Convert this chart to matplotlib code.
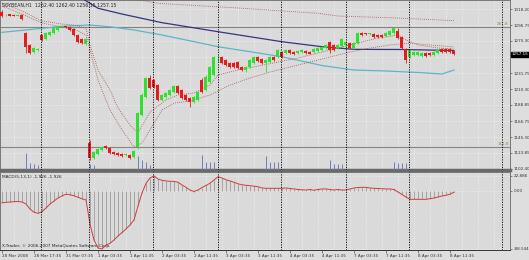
import matplotlib
matplotlib.use("Agg")
import matplotlib.pyplot as plt
import matplotlib.transforms as mtransforms
import numpy as np

# SOYBEAN H1 candles (28 Mar - 8 Apr 2008)
opens = [1314.50, 1310.00, 1311.25, 1310.50, 1309.25, 1310.50, 1286.00, 1270.00, 1260.50, 1263.00,
         1283.50, 1278.00, 1283.50, 1286.00, 1290.25, 1295.50, 1295.00, 1294.25, 1291.50, 1283.50,
         1278.00, 1271.25, 1137.25, 1116.75, 1122.25, 1127.75, 1133.00, 1130.50, 1125.00, 1123.75,
         1122.25, 1121.25, 1121.00, 1118.25, 1131.75, 1175.00, 1199.50, 1225.25, 1222.50, 1215.75,
         1195.50, 1199.50, 1202.25, 1206.25, 1214.25, 1209.00, 1202.25, 1198.00, 1192.75, 1195.50,
         1222.50, 1208.75, 1219.75, 1229.25, 1253.00, 1253.50, 1249.50, 1245.50, 1245.50, 1246.75,
         1240.00, 1236.00, 1240.00, 1245.50, 1253.50, 1251.00, 1245.50, 1246.75, 1253.50, 1253.50,
         1260.50, 1259.00, 1263.00, 1260.50, 1259.00, 1259.75, 1261.75, 1260.50, 1260.50, 1261.75,
         1263.00, 1265.75, 1274.00, 1270.00, 1265.75, 1268.50, 1270.00, 1272.50, 1265.75, 1272.50,
         1286.00, 1285.50, 1285.25, 1284.75, 1283.50, 1283.50, 1282.00, 1283.50, 1286.00, 1288.75,
         1280.75, 1264.50, 1253.50, 1256.25, 1256.25, 1255.00, 1259.00, 1259.00, 1256.25, 1259.00,
         1264.50, 1264.50, 1264.50, 1262.40]
highs = [1317.25, 1311.75, 1312.00, 1311.25, 1311.25, 1311.75, 1287.50, 1271.25, 1267.25, 1265.75,
         1284.75, 1287.50, 1288.75, 1294.25, 1297.00, 1297.00, 1296.25, 1295.50, 1293.00, 1284.75,
         1279.25, 1279.25, 1141.25, 1126.25, 1130.50, 1133.00, 1134.50, 1131.75, 1126.25, 1125.00,
         1123.75, 1123.00, 1122.25, 1127.75, 1179.25, 1204.75, 1226.50, 1229.25, 1223.75, 1217.00,
         1203.50, 1206.25, 1210.25, 1215.75, 1215.75, 1210.25, 1203.50, 1199.50, 1200.75, 1207.50,
         1225.25, 1229.25, 1241.50, 1255.00, 1256.25, 1255.00, 1251.00, 1246.75, 1246.75, 1248.25,
         1241.50, 1241.50, 1251.00, 1255.00, 1255.00, 1252.25, 1251.00, 1255.00, 1255.00, 1264.50,
         1261.75, 1264.50, 1264.50, 1261.75, 1263.00, 1264.50, 1263.00, 1261.75, 1265.75, 1267.25,
         1268.50, 1271.25, 1275.25, 1271.25, 1271.25, 1279.25, 1275.25, 1274.00, 1274.00, 1287.50,
         1287.50, 1286.75, 1286.75, 1286.00, 1284.75, 1284.75, 1287.50, 1290.25, 1294.25, 1293.00,
         1282.00, 1265.75, 1264.50, 1261.75, 1261.75, 1260.50, 1260.50, 1260.50, 1261.75, 1264.50,
         1265.75, 1265.75, 1265.75, 1262.40]
lows = [1307.75, 1309.00, 1308.50, 1308.50, 1308.50, 1303.75, 1259.00, 1257.75, 1259.00, 1261.75,
        1275.25, 1276.50, 1282.00, 1284.75, 1288.75, 1294.25, 1293.50, 1288.75, 1282.00, 1272.50,
        1271.25, 1269.75, 1114.25, 1115.50, 1121.00, 1126.25, 1129.00, 1122.25, 1121.00, 1119.50,
        1118.25, 1120.25, 1115.50, 1116.75, 1129.00, 1173.75, 1198.00, 1210.25, 1211.75, 1194.00,
        1194.00, 1198.00, 1200.75, 1204.75, 1203.50, 1196.75, 1194.00, 1186.00, 1191.25, 1194.00,
        1204.75, 1207.50, 1218.50, 1228.00, 1246.75, 1244.25, 1241.50, 1238.75, 1238.75, 1237.25,
        1234.75, 1233.25, 1238.75, 1244.25, 1246.75, 1244.25, 1233.25, 1245.50, 1248.25, 1252.25,
        1252.25, 1257.75, 1257.75, 1256.25, 1257.75, 1259.00, 1257.75, 1257.75, 1259.00, 1260.50,
        1261.75, 1264.50, 1259.00, 1261.75, 1264.50, 1267.25, 1268.50, 1264.50, 1264.50, 1271.25,
        1282.00, 1284.00, 1284.00, 1279.25, 1279.25, 1279.25, 1280.75, 1282.00, 1284.75, 1278.00,
        1264.50, 1245.50, 1252.25, 1255.00, 1255.00, 1253.50, 1253.50, 1255.00, 1255.00, 1257.75,
        1259.00, 1259.00, 1259.00, 1256.15]
closes = [1309.00, 1311.00, 1309.25, 1309.25, 1310.50, 1305.00, 1267.25, 1259.00, 1265.75, 1265.00,
          1276.50, 1286.00, 1287.50, 1293.00, 1295.50, 1296.00, 1294.75, 1290.25, 1283.50, 1274.00,
          1272.50, 1278.00, 1116.75, 1125.00, 1129.00, 1131.75, 1130.50, 1123.75, 1122.25, 1121.00,
          1119.50, 1122.00, 1116.75, 1126.25, 1177.75, 1202.25, 1225.25, 1211.75, 1213.00, 1195.50,
          1202.25, 1204.75, 1209.00, 1214.25, 1204.75, 1198.00, 1195.50, 1192.75, 1199.50, 1206.25,
          1206.25, 1226.50, 1240.00, 1253.50, 1253.75, 1245.50, 1242.75, 1240.00, 1240.00, 1238.75,
          1236.00, 1240.00, 1249.50, 1253.50, 1248.25, 1245.50, 1249.50, 1253.50, 1249.50, 1263.00,
          1253.50, 1263.00, 1259.00, 1257.75, 1261.75, 1263.00, 1259.00, 1258.25, 1264.50, 1265.75,
          1267.25, 1270.00, 1263.00, 1263.00, 1270.00, 1278.00, 1274.00, 1265.75, 1272.50, 1286.00,
          1283.50, 1285.25, 1285.50, 1280.75, 1280.75, 1280.75, 1286.00, 1288.75, 1293.00, 1279.25,
          1265.75, 1249.50, 1263.00, 1260.50, 1260.50, 1259.00, 1255.00, 1256.25, 1260.50, 1263.00,
          1260.50, 1260.50, 1260.50, 1257.15]

# MACD(5,13,1) - histogram and signal are the same series
macd = [-18.0, -17.3, -16.8, -16.3, -16.0, -16.8, -19.9, -27.5, -32.5, -34.1,
        -31.6, -26.0, -19.9, -15.3, -10.7, -7.6, -5.0, -5.8, -7.3, -9.6,
        -11.9, -13.7, -50.4, -74.8, -87.0, -88.5, -82.5, -79.9, -74.8, -68.7,
        -63.4, -58.0, -51.9, -44.3, -22.9, -3.1, 11.5, 19.9, 22.9, 18.3,
        16.3, 15.3, 14.8, 14.5, 13.4, 9.2, 5.6, 1.5, -0.8, 1.5,
        5.3, 8.4, 11.8, 16.8, 21.8, 19.9, 17.1, 15.3, 13.3, 11.0,
        9.5, 8.7, 8.1, 7.3, 6.6, 4.6, 4.1, 4.1, 4.1, 4.1,
        4.1, 4.6, 3.8, 3.1, 2.3, 1.8, 1.5, 2.3, 1.1, 2.3,
        3.1, 3.1, 2.3, 1.5, 2.3, 1.5, 1.5, 3.1, 4.6, 5.3,
        5.6, 5.6, 4.6, 4.1, 3.8, 3.5, 3.1, 3.1, 2.3, -1.5,
        -5.3, -9.2, -12.7, -12.7, -12.7, -12.7, -12.7, -11.8, -10.7, -9.2,
        -7.6, -6.6, -5.0, -1.9]

# volume spikes (only a few bars show them)
vol_bars = [6, 7, 8, 9, 22, 23, 34, 35, 36, 37, 50, 51, 52, 53, 66, 67, 68, 69, 82, 83, 84, 85, 98, 99, 100, 101]
vol_vals = [100, 40, 35, 30, 35, 30, 80, 60, 50, 30, 90, 50, 45, 45, 80, 50, 45, 45, 60, 35, 35, 35, 50, 40, 40, 40]

# moving averages (solid) read at a few bars
slow_ma_bars = [20, 24, 30, 40, 54, 70, 80, 88, 100, 113]
slow_ma_vals = [1333.0, 1319.6, 1311.8, 1300.1, 1287.9, 1274.3, 1267.6, 1264.0, 1263.8, 1262.4]
mid_ma_bars = [0, 10, 16, 22, 27, 33, 40, 54, 70, 80, 88, 96, 105, 110, 113]
mid_ma_vals = [1287.0, 1292.5, 1295.6, 1296.9, 1294.6, 1290.2, 1283.4, 1267.6, 1254.0, 1242.1,
               1236.0, 1234.7, 1232.4, 1230.6, 1236.0]

# dotted lines
fast_bars = [0, 5, 10, 15, 18, 21, 22, 24, 27, 29, 32, 34, 37, 41, 44, 48, 52, 54, 59, 64,
             69, 74, 79, 84, 89, 94, 99, 101, 104, 109, 113]
fast_vals = [1326.7, 1315.9, 1302.4, 1298.3, 1296.9, 1292.9, 1269.9, 1236.0, 1208.9, 1184.6,
             1161.5, 1150.7, 1179.1, 1195.4, 1202.2, 1204.9, 1215.7, 1229.2, 1236.0, 1241.4,
             1246.8, 1252.3, 1259.0, 1265.8, 1272.6, 1279.3, 1283.4, 1276.6, 1269.9, 1265.8, 1264.4]
slow_bars = [0, 5, 10, 15, 18, 21, 22, 24, 27, 30, 33, 35, 37, 40, 43, 47, 52, 57, 62, 67,
             72, 77, 82, 87, 92, 97, 102, 107, 113]
slow_vals = [1322.7, 1311.8, 1299.6, 1294.2, 1291.5, 1283.4, 1263.1, 1222.5, 1181.9, 1154.8,
             1131.8, 1137.2, 1154.8, 1181.9, 1191.3, 1194.0, 1202.2, 1215.7, 1225.2, 1233.3,
             1240.1, 1246.8, 1253.6, 1260.4, 1265.8, 1269.9, 1272.6, 1269.9, 1267.2]
top_bars = [30, 39, 59, 79, 84, 99, 113]
top_vals = [1334.8, 1326.3, 1320.0, 1312.8, 1309.1, 1306.4, 1302.8]

fibo_levels = [1294.6, 1132.2]
fibo_names = ['261.8', '161.8']

separators = [9.75, 21.75, 37.75, 54.0, 69.75, 86.0, 101.75, 125.0]

price_ticks = [1318.20, 1296.75, 1275.30, 1253.85, 1231.75, 1210.30, 1188.85, 1166.75, 1145.30, 1123.85, 1102.40]
time_labels = ['28 Mar 2008', '28 Mar 17:35', '31 Mar 07:35', '1 Apr 03:35', '1 Apr 11:35',
               '2 Apr 03:35', '2 Apr 11:35', '3 Apr 03:35', '3 Apr 11:35', '4 Apr 03:35',
               '4 Apr 11:35', '7 Apr 03:35', '7 Apr 11:35', '8 Apr 03:35', '8 Apr 11:35']

bg = '#dadada'
bull = '#2fe02f'
bear = '#e41c1c'

fig = plt.figure(figsize=(5.29, 2.60), dpi=100)
fig.patch.set_facecolor('#dedede')
ax = fig.add_axes([0.0, 0.346, 0.964, 0.654])
axm = fig.add_axes([0.0, 0.0385, 0.964, 0.300])
axv = fig.add_axes([0.0, 0.346, 0.964, 0.654])

xmin, xmax = -0.5, 127
for a in (ax, axm, axv):
    a.set_xlim(xmin, xmax)

# --- price panel
ax.set_facecolor(bg)
ax.set_ylim(1100.6, 1330.8)
bars = np.arange(len(opens))
o = np.array(opens); c = np.array(closes)
cols = [bull if cc >= oo else bear for oo, cc in zip(o, c)]
ax.vlines(bars, lows, highs, colors=cols, lw=0.6, zorder=4)
ax.bar(bars, np.maximum(np.abs(c - o), 0.7), bottom=np.minimum(o, c), width=0.75,
       color=cols, zorder=5, linewidth=0)

ax.plot(slow_ma_bars, slow_ma_vals, color='#35357c', lw=0.9, zorder=3)
ax.plot(mid_ma_bars, mid_ma_vals, color='#5cb6c6', lw=0.9, zorder=3)
for bx, vals in ((fast_bars, fast_vals), (slow_bars, slow_vals), (top_bars, top_vals)):
    ax.plot(bx, vals, color='#a5524c', lw=0.6, ls=(0, (1, 1.5)), zorder=3)

for lvl, name in zip(fibo_levels, fibo_names):
    ax.axhline(lvl, color='#858585', lw=0.8, zorder=2)
    ax.text(xmax - 0.3, lvl + 0.8, name, ha='right', va='bottom', fontsize=3, color='#8c8c5a')

ax.text(0.004, 0.985, 'SOYBEAN,H1  1262.40 1262.40 1256.15 1257.15', transform=ax.transAxes,
        fontsize=3.3, va='top', ha='left', color='#222222')

ax.yaxis.tick_right()
ax.set_yticks(price_ticks)
ax.set_yticklabels([f'{t:.2f}' for t in price_ticks])
ax.tick_params(axis='y', labelsize=3, length=1.5, pad=1, width=0.4, colors='#333333')
ax.tick_params(axis='x', bottom=False, labelbottom=False)
ax.set_xticks(np.arange(3, 127, 4))
ax.grid(True, color='#f4f4f4', ls=(0, (2, 2)), lw=0.4)
ax.set_axisbelow(True)

tr = mtransforms.blended_transform_factory(ax.transAxes, ax.transData)
ax.text(1.004, 1257.15, '1257.15', transform=tr, ha='left', va='center', fontsize=3,
        color='white', bbox=dict(facecolor='black', edgecolor='black', pad=0.5), zorder=10)

for s in ax.spines.values():
    s.set_color('#777777'); s.set_linewidth(0.7)
ax.spines['bottom'].set_linewidth(2.5)
ax.spines['bottom'].set_color('#6a6a6a')

# volumes on an overlay axis
axv.set_ylim(0, 1000)
axv.vlines(vol_bars, 0, vol_vals, color='#7080b8', lw=0.7)
axv.axis('off')
axv.patch.set_visible(False)

# --- MACD panel
axm.set_facecolor(bg)
axm.set_ylim(-90.07, 29.0)
axm.vlines(bars, 0, macd, color='#8e8e8e', lw=0.5, zorder=3)
axm.plot(bars, macd, color='#cf3c3c', lw=0.7, zorder=4)
axm.text(0.004, 0.96, 'MACD(5,13,1) -1.926 -1.926', transform=axm.transAxes, fontsize=3.1,
         va='top', ha='left', color='#222222')
axm.text(0.004, 0.03, 'X-Trader, \u00a9 2006-2007 MetaQuotes Software Corp.', transform=axm.transAxes,
         fontsize=3.1, va='bottom', ha='left', color='#222222')

axm.yaxis.tick_right()
axm.set_yticks([22.886, 0, -88.544])
axm.set_yticklabels(['22.886', '0.00', '-88.544'])
axm.tick_params(axis='y', labelsize=3, length=1.5, pad=1, width=0.4, colors='#333333')
axm.set_xticks(np.arange(0, 113, 8))
axm.set_xticklabels(time_labels)
axm.set_xticks(np.arange(3, 127, 4), minor=True)
axm.tick_params(axis='x', which='major', labelsize=3, length=2, pad=1, width=0.4, colors='#333333')
axm.tick_params(axis='x', which='minor', length=0)
for lab in axm.get_xticklabels():
    lab.set_ha('left')
axm.grid(True, which='minor', axis='x', color='#f4f4f4', ls=(0, (2, 2)), lw=0.4)
axm.grid(True, which='major', axis='y', color='#f4f4f4', ls=(0, (2, 2)), lw=0.4)
axm.set_axisbelow(True)
for s in axm.spines.values():
    s.set_color('#777777'); s.set_linewidth(0.7)
axm.spines['bottom'].set_color('#333333')

# day separators
for sep in separators:
    ax.axvline(sep, color='black', lw=0.6, ls=(0, (1.5, 1.5)), zorder=6)
    axm.axvline(sep, color='black', lw=0.6, ls=(0, (1.5, 1.5)), zorder=6)

fig.savefig('out.png', dpi=100, facecolor=fig.get_facecolor())
